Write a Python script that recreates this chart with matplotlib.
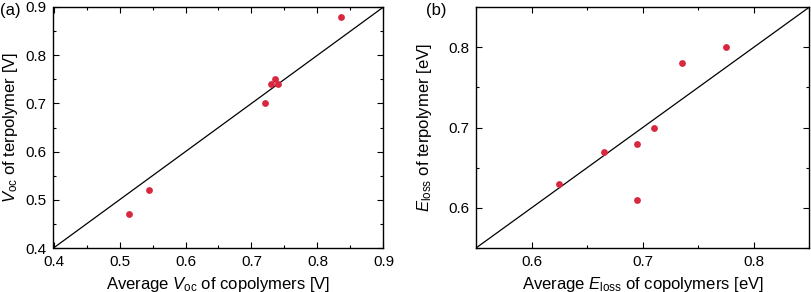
import matplotlib.pyplot as plt
import numpy as np

plt.rcParams['font.family'] = ['Liberation Sans', 'DejaVu Sans']
plt.rcParams['mathtext.fontset'] = 'custom'
plt.rcParams['mathtext.it'] = 'Liberation Sans:italic'
plt.rcParams['mathtext.rm'] = 'Liberation Sans'

# (a) open-circuit voltage
voc_copoly = [0.515, 0.545, 0.72, 0.73, 0.735, 0.74, 0.835]
voc_terpoly = [0.47, 0.52, 0.70, 0.74, 0.75, 0.74, 0.88]

# (b) energy loss
eloss_copoly = [0.625, 0.665, 0.695, 0.695, 0.71, 0.735, 0.775]
eloss_terpoly = [0.63, 0.67, 0.68, 0.61, 0.70, 0.78, 0.80]

dot_color = '#d7283f'

fig = plt.figure(figsize=(8.12, 2.92), dpi=100)
ax1 = fig.add_axes([53.5/812, 44/292, 330/812, 241/292])
ax2 = fig.add_axes([476/812, 44/292, 333.5/812, 241/292])


def style(ax, lo, hi, major):
    ax.set_xlim(lo, hi)
    ax.set_ylim(lo, hi)
    ax.set_xticks(major)
    ax.set_yticks(major)
    ax.set_xticks(np.arange(lo, hi + 1e-9, 0.05), minor=True)
    ax.set_yticks(np.arange(lo, hi + 1e-9, 0.05), minor=True)
    ax.tick_params(which='both', direction='in', top=True, right=True,
                   labelsize=11, pad=5)
    ax.tick_params(which='major', length=4, width=0.8)
    ax.tick_params(which='minor', length=2.5, width=0.8)
    ax.plot([lo, hi], [lo, hi], color='black', lw=0.9)
    for s in ax.spines.values():
        s.set_linewidth(1)


style(ax1, 0.4, 0.9, [0.4, 0.5, 0.6, 0.7, 0.8, 0.9])
ax1.set_xticklabels(['0.4', '0.5', '0.6', '0.7', '0.8', '0.9'])
ax1.set_yticklabels(['0.4', '0.5', '0.6', '0.7', '0.8', '0.9'])
ax1.scatter(voc_copoly, voc_terpoly, s=24, color=dot_color, zorder=3, linewidths=0)
ax1.set_xlabel(r'Average $V_{\mathrm{oc}}$ of copolymers [V]', fontsize=12, labelpad=4)
ax1.set_ylabel(r'$V_{\mathrm{oc}}$ of terpolymer [V]', fontsize=12, labelpad=4)

style(ax2, 0.55, 0.85, [0.6, 0.7, 0.8])
ax2.set_xticklabels(['0.6', '0.7', '0.8'])
ax2.set_yticklabels(['0.6', '0.7', '0.8'])
ax2.scatter(eloss_copoly, eloss_terpoly, s=24, color=dot_color, zorder=3, linewidths=0)
ax2.set_xlabel(r'Average $E_{\mathrm{loss}}$ of copolymers [eV]', fontsize=12, labelpad=4)
ax2.set_ylabel(r'$E_{\mathrm{loss}}$ of terpolymer [eV]', fontsize=12, labelpad=10)

fig.text(0.0, 0.965, '(a)', fontsize=12, va='center', ha='left')
fig.text(426/812, 0.965, '(b)', fontsize=12, va='center', ha='left')

fig.savefig('out.png', dpi=100)
